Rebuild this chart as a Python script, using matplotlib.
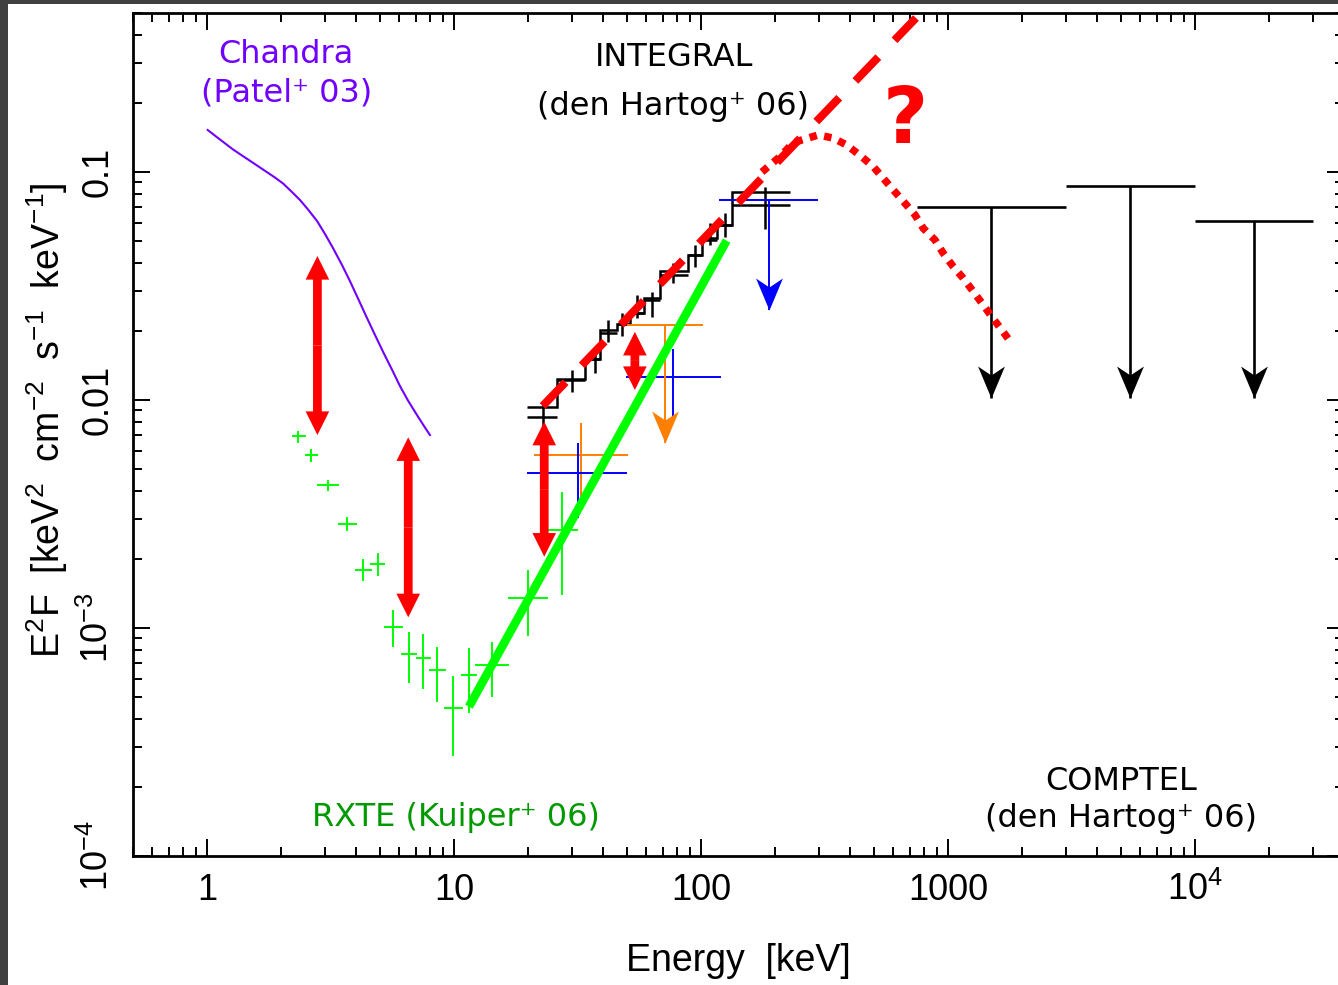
import numpy as np
import matplotlib
matplotlib.use("Agg")
import matplotlib.pyplot as plt
from matplotlib.path import Path
from matplotlib.patches import FancyArrowPatch, ArrowStyle, Rectangle
from matplotlib.ticker import NullFormatter

# Values: E in keV, E^2F in keV^2 cm^-2 s^-1 keV^-1

# Chandra model (Patel+ 03)
chandra_e = [1.007, 1.129, 1.274, 1.425, 1.594, 1.750, 1.886, 2.031, 2.188, 2.379, 2.564, 2.789,
             3.004, 3.237, 3.521, 3.793, 4.087, 4.444, 4.788, 5.159, 5.610, 6.045, 6.513, 7.084,
             7.560, 7.994]
chandra_f = [0.1528, 0.1388, 0.1256, 0.1158, 0.1068, 0.0998, 0.0945, 0.0891, 0.0825, 0.0754,
             0.0685, 0.0610, 0.0535, 0.0464, 0.0391, 0.0332, 0.0279, 0.0229, 0.0193, 0.0163,
             0.0136, 0.01151, 0.00995, 0.00859, 0.00769, 0.00702]

# RXTE data (Kuiper+ 06)
rxte_e = [2.34, 2.64, 3.09, 3.70, 4.29, 4.91, 5.68, 6.59, 7.51, 8.56, 9.91, 11.50, 14.25, 19.88, 27.45]
rxte_elo = [2.20, 2.49, 2.78, 3.40, 3.97, 4.57, 5.21, 6.08, 7.02, 7.92, 9.11, 10.67, 12.16, 16.50, 24.09]
rxte_ehi = [2.52, 2.82, 3.43, 4.04, 4.64, 5.27, 6.20, 7.10, 8.05, 9.26, 10.85, 12.36, 16.75, 23.95, 31.68]
rxte_f = [6.95e-3, 5.76e-3, 4.24e-3, 2.85e-3, 1.80e-3, 1.91e-3, 1.01e-3, 7.67e-4, 7.41e-4,
          6.54e-4, 4.44e-4, 6.22e-4, 6.88e-4, 1.36e-3, 2.69e-3]
rxte_flo = [6.50e-3, 5.36e-3, 4.00e-3, 2.65e-3, 1.60e-3, 1.69e-3, 8.28e-4, 5.72e-4, 5.42e-4,
            4.75e-4, 2.75e-4, 4.22e-4, 5.00e-4, 9.22e-4, 1.39e-3]
rxte_fhi = [7.33e-3, 6.10e-3, 4.46e-3, 3.08e-3, 2.00e-3, 2.13e-3, 1.20e-3, 9.63e-4, 9.41e-4,
            8.28e-4, 6.16e-4, 8.20e-4, 8.71e-4, 1.80e-3, 3.96e-3]
rxte_fit_e = [11.5, 127.0]
rxte_fit_f = [4.52e-4, 0.0500]

# INTEGRAL (den Hartog+ 06): bins, data and model steps
integral_edges = [19.81, 26.05, 33.92, 39.01, 45.58, 51.59, 58.77, 68.23, 88.85, 100.7, 115.8, 133.1, 229.3]
integral_e = [22.86, 29.96, 37.23, 42.03, 47.74, 54.93, 63.50, 77.27, 94.56, 108.7, 125.1, 181.6]
integral_f = [8.39e-3, 0.01224, 0.01513, 0.01967, 0.02154, 0.02407, 0.02745, 0.03534,
              0.04325, 0.05030, 0.05854, 0.07164]
integral_flo = [7.61e-3, 0.01084, 0.01313, 0.01796, 0.01909, 0.02289, 0.02312, 0.03260,
                0.03831, 0.04783, 0.05187, 0.05623]
integral_fhi = [9.70e-3, 0.01354, 0.01674, 0.02243, 0.02407, 0.02888, 0.02977, 0.03990,
                0.04783, 0.05974, 0.06612, 0.08596]
integral_model = [9.35e-3, 0.01232, 0.01513, 0.02028, 0.02154, 0.02407, 0.02801, 0.03680,
                  0.04325, 0.05134, 0.05854, 0.08198]

# other hard X-ray points
orange_e, orange_elo, orange_ehi = [32.58], [21.08], [50.49]
orange_f, orange_flo, orange_fhi = [5.74e-3], [3.64e-3], [7.90e-3]
orange_ul_e, orange_ul_elo, orange_ul_ehi = [71.5], [50.02], [102.2]
orange_ul_f, orange_ul_tip = [0.02133], [6.46e-3]

blue_e, blue_elo, blue_ehi = [31.68, 77.3], [19.81, 49.55], [50.30, 120.5]
blue_f, blue_flo, blue_fhi = [4.77e-3, 0.01258], [3.03e-3, 8.45e-3], [6.50e-3, 0.01669]
blue_ul_e, blue_ul_elo, blue_ul_ehi = [189.0], [118.6], [297.7]
blue_ul_f, blue_ul_tip = [0.0754], [0.0248]

# COMPTEL upper limits
comptel_e = [1500, 5480, 17300]
comptel_elo = [750, 3000, 10000]
comptel_ehi = [3000, 10000, 30000]
comptel_f = [0.0700, 0.0868, 0.0608]
comptel_tip = [0.0102, 0.0102, 0.0102]

# extrapolations
dash_e = [22.86, 742.0]
dash_f = [9.41e-3, 0.4736]
dot_e = [176.6, 208.8, 235.8, 255.6, 298.5, 342.1, 388.9, 447.3, 498.4, 547.1, 600.6, 669.8,
         735.2, 794.3, 885.9, 957.2, 1051, 1153, 1266, 1390, 1503, 1650, 1811]
dot_f = [0.100, 0.1167, 0.1340, 0.1381, 0.1453, 0.1409, 0.1313, 0.1167, 0.1055, 0.0938, 0.0834,
         0.0729, 0.0648, 0.0566, 0.0503, 0.0440, 0.0384, 0.0342, 0.0299, 0.0261, 0.0232, 0.0203, 0.0177]

# red double arrows
gap_e = [2.80, 6.53, 23.2, 54.0]
gap_top = [0.0428, 6.86e-3, 8.03e-3, 0.0199]
gap_bottom = [7.02e-3, 1.114e-3, 2.055e-3, 0.01106]

xticks = [1, 10, 100, 1000, 1e4]
xticklabels = ['1', '10', '100', '1000', r'$10^4$']
yticks = [1e-4, 1e-3, 1e-2, 1e-1]
yticklabels = [r'$10^{-4}$', r'$10^{-3}$', '0.01', '0.1']

purple = '#7000ff'
green = '#00ff00'
dark_green = '#009a00'
orange = '#ff7f00'

plt.rcParams['font.family'] = ['Liberation Sans', 'DejaVu Sans']
plt.rcParams['mathtext.fontset'] = 'custom'
plt.rcParams['mathtext.rm'] = 'Liberation Sans'
plt.rcParams['mathtext.it'] = 'Liberation Sans:italic'
plt.rcParams['mathtext.bf'] = 'Liberation Sans:bold'

fig = plt.figure(figsize=(13.38, 9.85), dpi=100)
ax = fig.add_axes([132.6 / 1338, 129 / 985, 1211.1 / 1338, 843.4 / 985])
ax.set_xscale('log')
ax.set_yscale('log')
ax.set_xlim(0.5, 4e4)
ax.set_ylim(1e-4, 0.5)

# notched arrow head, tip at the origin
head = Path([(0, 0), (-0.42, 1), (0, 0.72), (0.42, 1), (0, 0)],
            [Path.MOVETO, Path.LINETO, Path.LINETO, Path.LINETO, Path.CLOSEPOLY])


def crosses(e, elo, ehi, f, flo, fhi, color, lw, z=3):
    e, f = np.asarray(e), np.asarray(f)
    ax.errorbar(e, f, xerr=[e - np.asarray(elo), np.asarray(ehi) - e],
                yerr=[f - np.asarray(flo), np.asarray(fhi) - f],
                fmt='none', ecolor=color, elinewidth=lw, capsize=0, zorder=z)


def upper_limits(e, elo, ehi, f, tip, color, lw):
    ax.hlines(f, elo, ehi, color=color, lw=lw, zorder=3)
    ax.vlines(e, tip, f, color=color, lw=lw, zorder=3)
    ax.plot(e, tip, ls='none', marker=head, ms=46, color=color, mew=0, zorder=3)


# Chandra
ax.plot(chandra_e, chandra_f, color=purple, lw=1.5, solid_joinstyle='round')

# RXTE
crosses(rxte_e, rxte_elo, rxte_ehi, rxte_f, rxte_flo, rxte_fhi, green, 1.4)
ax.plot(rxte_fit_e, rxte_fit_f, color=green, lw=6.2, solid_capstyle='butt', zorder=4)

# INTEGRAL
ax.stairs(integral_model, integral_edges, baseline=None, color='black', lw=1.8, zorder=3)
crosses(integral_e, integral_edges[:-1], integral_edges[1:], integral_f, integral_flo,
        integral_fhi, 'black', 1.8)

crosses(orange_e, orange_elo, orange_ehi, orange_f, orange_flo, orange_fhi, orange, 1.4)
crosses(blue_e, blue_elo, blue_ehi, blue_f, blue_flo, blue_fhi, 'blue', 1.4)
upper_limits(orange_ul_e, orange_ul_elo, orange_ul_ehi, orange_ul_f, orange_ul_tip, orange, 1.4)
upper_limits(blue_ul_e, blue_ul_elo, blue_ul_ehi, blue_ul_f, blue_ul_tip, 'blue', 1.4)

# COMPTEL
upper_limits(comptel_e, comptel_elo, comptel_ehi, comptel_f, comptel_tip, 'black', 1.9)

# extrapolations
ax.plot(dash_e, dash_f, color='red', lw=5.8, dashes=(4.1, 2.9), zorder=5)
ax.plot(dot_e, dot_f, color='red', lw=5.4, dashes=(1, 1), zorder=5)

# red double arrows
style = ArrowStyle.Simple(head_length=17, head_width=17, tail_width=6.3)
for e, top, bot in zip(gap_e, gap_top, gap_bottom):
    mid = np.sqrt(top * bot)
    for end in (top, bot):
        ax.add_patch(FancyArrowPatch((e, mid), (e, end), arrowstyle=style, mutation_scale=1,
                                     shrinkA=0, shrinkB=0, fc='red', ec='none', zorder=6))

# labels inside the plot
tkw = dict(transform=ax.transAxes, ha='center', va='baseline', fontsize=23,
           family=['DejaVu Sans'])
ax.text(0.1268, 0.9399, 'Chandra', color=purple, **tkw)
ax.text(0.1272, 0.8943, '(Patel\u207a 03)', color=purple, **tkw)
ax.text(0.4467, 0.9370, 'INTEGRAL', color='black', **tkw)
ax.text(0.4458, 0.8786, '(den Hartog\u207a 06)', color='black', **tkw)
ax.text(0.2667, 0.0356, 'RXTE (Kuiper\u207a 06)', color=dark_green, **tkw)
ax.text(0.8164, 0.0783, 'COMPTEL', color='black', **tkw)
ax.text(0.8164, 0.0344, '(den Hartog\u207a 06)', color='black', **tkw)
ax.text(0.6377, 0.8457, '?', color='red', transform=ax.transAxes, ha='center',
        va='baseline', fontsize=56, fontweight='bold', family=['DejaVu Sans'])

# axes
ax.set_xticks(xticks)
ax.set_xticklabels(xticklabels)
ax.set_yticks(yticks)
ax.set_yticklabels(yticklabels, rotation=90, va='center')
ax.xaxis.set_minor_formatter(NullFormatter())
ax.yaxis.set_minor_formatter(NullFormatter())
ax.tick_params(which='both', direction='in', top=True, right=True, width=1.4, labelsize=26)
ax.tick_params(which='major', length=12.2)
ax.tick_params(which='minor', length=6.5)
ax.tick_params(axis='x', pad=31.7)
ax.tick_params(axis='y', pad=12)
for lbl in ax.get_xticklabels():
    lbl.set_va('baseline')
for s in ax.spines.values():
    s.set_linewidth(2)

ax.set_xlabel('Energy  [keV]', fontsize=27, va='baseline')
ax.xaxis.set_label_coords(0.5, -0.1364)
ax.set_ylabel(r'E$^2$F  [keV$^2$  cm$^{-2}$  s$^{-1}$  keV$^{-1}$]', fontsize=27, va='baseline')
ax.yaxis.set_label_coords(-0.0599, 0.517)

# dark frame of the slide
fig.add_artist(Rectangle((0, 0), 8 / 1338, 1, transform=fig.transFigure,
                         facecolor='#404040', edgecolor='none', zorder=10))
fig.add_artist(Rectangle((0, 1 - 4 / 985), 1, 4 / 985, transform=fig.transFigure,
                         facecolor='#404040', edgecolor='none', zorder=10))

fig.savefig('out.png', dpi=100)
